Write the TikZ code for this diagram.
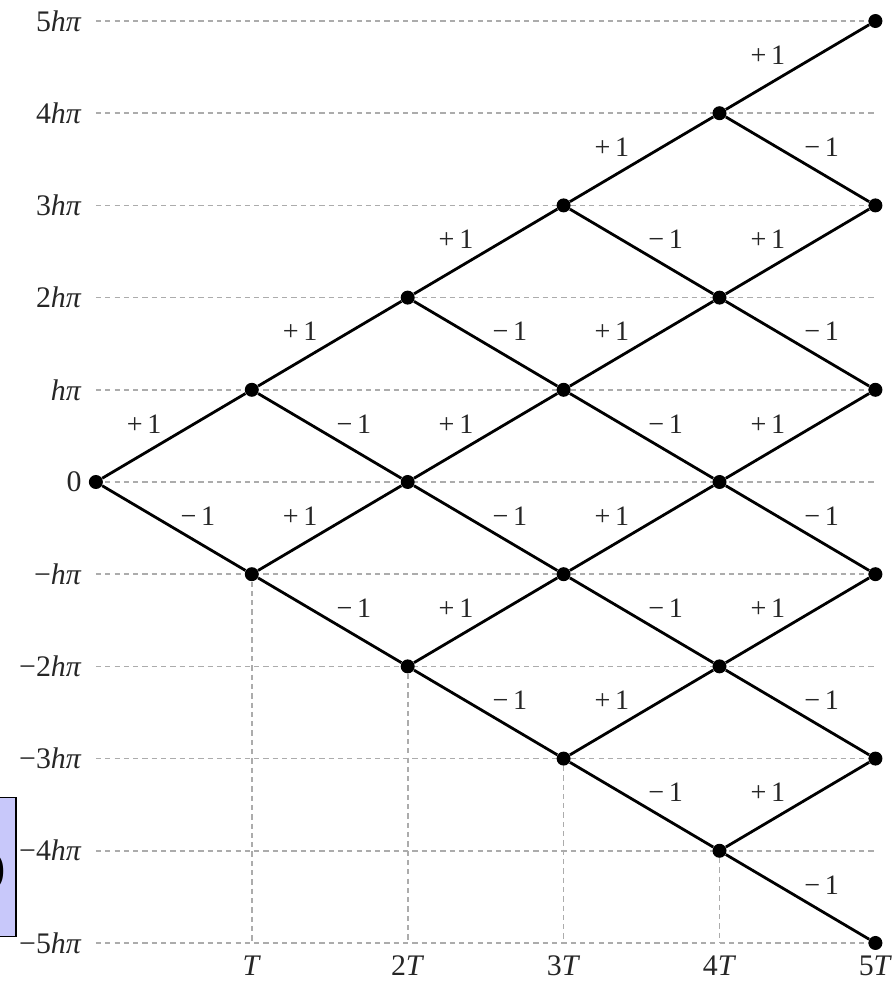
\documentclass[tikz,border=0pt]{standalone}
\usepackage{fontspec}
\setmainfont{Liberation Serif}
\usetikzlibrary{calc}
\definecolor{boxblue}{RGB}{200,200,250}
\tikzset{
  dot/.style={circle,fill=black,inner sep=0pt,minimum size=0.28cm},
  levelline/.style={gray!65,line width=1pt,dash pattern=on 3pt off 2.3pt},
  stepline/.style={line width=1.6pt},
  steplabel/.style={font=\fontsize{16}{18}\selectfont,text=black!85,inner sep=0pt},
  axislabel/.style={font=\fontsize{17}{19}\selectfont,text=black!85,inner sep=0pt}
}
\begin{document}
\begin{tikzpicture}[x=3.12cm,y=1.845cm]
  \useasboundingbox (-0.615,-5.445) rectangle (5.122,5.228);
  % cut-off box at the left
  \draw[fill=boxblue,line width=0.8pt] (-1,-4.93) rectangle (-0.513,-3.424);
  \node[anchor=east,font=\fontsize{26}{28}\selectfont,inner sep=0pt] (paren) at (-0.575,-4.22) {)};
  % levels
  \foreach \j in {-5,...,5}
    \draw[levelline] (0,\j) -- (5,\j);
  \node[axislabel,anchor=east] (l5) at (-0.09,5) {5\textit{hπ}};
  \node[axislabel,anchor=east] (l4) at (-0.09,4) {4\textit{hπ}};
  \node[axislabel,anchor=east] (l3) at (-0.09,3) {3\textit{hπ}};
  \node[axislabel,anchor=east] (l2) at (-0.09,2) {2\textit{hπ}};
  \node[axislabel,anchor=east] (l1) at (-0.09,1) {\textit{hπ}};
  \node[axislabel,anchor=east] (l0) at (-0.09,0) {0};
  \node[axislabel,anchor=east] (lm1) at (-0.09,-1) {−\textit{hπ}};
  \node[axislabel,anchor=east] (lm2) at (-0.09,-2) {−2\textit{hπ}};
  \node[axislabel,anchor=east] (lm3) at (-0.09,-3) {−3\textit{hπ}};
  \node[axislabel,anchor=east] (lm4) at (-0.09,-4) {−4\textit{hπ}};
  \node[axislabel,anchor=east] (lm5) at (-0.09,-5) {−5\textit{hπ}};
  % nodes of the tree
  \foreach \i in {0,...,5}
    \foreach \k in {0,...,\i}
      \node[dot] (n\i\k) at (\i,{2*\k-\i}) {};
  % time axis
  \node[axislabel] (t1) at (1,-5.245) {\textit{T}};
  \node[axislabel] (t2) at (2,-5.245) {2\textit{T}};
  \node[axislabel] (t3) at (3,-5.245) {3\textit{T}};
  \node[axislabel] (t4) at (4,-5.245) {4\textit{T}};
  \node[axislabel] (t5) at (5,-5.245) {5\textit{T}};
  \foreach \i in {1,...,4} {
    \coordinate (b\i) at (\i,-5);
    \draw[levelline] (n\i0) -- (b\i);
  }
  % steps
  \foreach \i in {0,...,4}
    \foreach \k in {0,...,\i} {
      \pgfmathtruncatemacro{\ii}{\i+1}
      \pgfmathtruncatemacro{\kk}{\k+1}
      \draw[stepline] (n\i\k) -- (n\ii\kk);
      \draw[stepline] (n\i\k) -- (n\ii\k);
      \node[steplabel] at ($(n\i\k)!0.5!(n\ii\kk)+(-0.19,0.13)$) {+\,1};
      \node[steplabel] at ($(n\i\k)!0.5!(n\ii\k)+(0.155,0.13)$) {−\,1};
    }
\end{tikzpicture}
\end{document}
